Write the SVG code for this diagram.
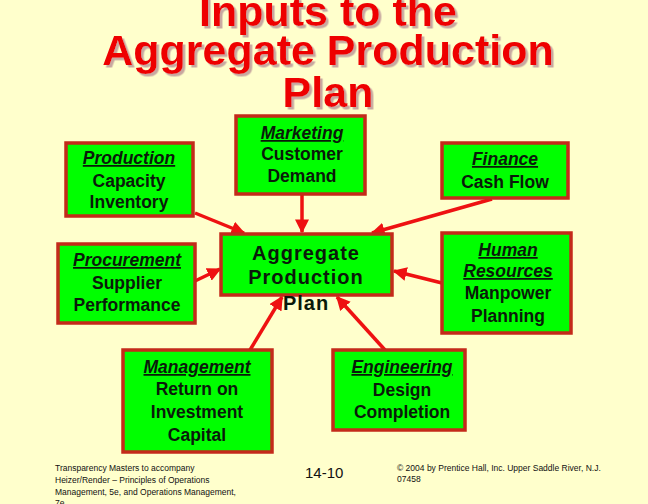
<svg xmlns="http://www.w3.org/2000/svg" width="648" height="504" viewBox="0 0 648 504">
<defs>
<marker id="ah" viewBox="0 0 10 10" refX="9" refY="5" markerWidth="4" markerHeight="4" orient="auto" markerUnits="strokeWidth">
<path d="M0,0 L10,5 L0,10 z" fill="#EE1111"/>
</marker>
<filter id="sh" x="-5%" y="-20%" width="110%" height="140%">
<feDropShadow dx="2.5" dy="2.5" stdDeviation="0" flood-color="#C8A8A0" flood-opacity="1"/>
</filter>
</defs>
<style>
.bg{fill:#FFFFCC}
.box{fill:#00FF00;stroke:#C42A1A;stroke-width:3.5}
.t{font-family:"Liberation Sans",Arial,sans-serif;font-weight:bold;font-size:17.5px;fill:#0A1A0A;text-anchor:middle}
.h{font-style:italic;text-decoration:underline}
.big{font-size:20px;letter-spacing:1px}
.title{font-family:"Liberation Sans",Arial,sans-serif;font-weight:bold;font-size:43px;text-anchor:middle;fill:#EE0000}
.ft{font-family:"Liberation Sans",Arial,sans-serif;font-size:8.5px;fill:#111}
.conn line{stroke:#EE1111;stroke-width:3.5;marker-end:url(#ah)}
</style>
<rect class="bg" x="0" y="0" width="648" height="504"/>
<g id="title" filter="url(#sh)">
<text class="title" x="328" y="26">Inputs to the</text>
<text class="title" x="328" y="65">Aggregate Production</text>
<text class="title" x="328" y="107">Plan</text>
</g>
<g class="conn" id="connectors">
<line x1="195" y1="213" x2="244" y2="233"/>
<line x1="302" y1="194" x2="302" y2="232"/>
<line x1="492" y1="199" x2="372" y2="233"/>
<line x1="195" y1="281" x2="220" y2="269"/>
<line x1="442" y1="283" x2="394" y2="271"/>
<line x1="250" y1="350" x2="282" y2="297"/>
<line x1="385" y1="350" x2="337" y2="297"/>
</g>
<g id="production">
<rect class="box" x="66" y="143" width="127" height="73"/>
<text class="t h" x="129" y="164">Production</text>
<text class="t" x="129" y="187">Capacity</text>
<text class="t" x="129" y="208">Inventory</text>
</g>
<g id="marketing">
<rect class="box" x="236" y="116" width="129" height="78"/>
<text class="t h" x="302" y="139">Marketing</text>
<text class="t" x="302" y="160">Customer</text>
<text class="t" x="302" y="182">Demand</text>
</g>
<g id="finance">
<rect class="box" x="442" y="143" width="126" height="55"/>
<text class="t h" x="505" y="165">Finance</text>
<text class="t" x="505" y="188">Cash Flow</text>
</g>
<g id="procurement">
<rect class="box" x="58" y="244" width="137" height="79"/>
<text class="t h" x="127" y="266">Procurement</text>
<text class="t" x="127" y="289">Supplier</text>
<text class="t" x="127" y="311">Performance</text>
</g>
<g id="aggregate">
<rect class="box" x="221" y="234" width="171" height="61"/>
<text class="t big" x="306" y="260">Aggregate</text>
<text class="t big" x="306" y="284">Production</text>
<text class="t big" x="306" y="310">Plan</text>
</g>
<g id="human-resources">
<rect class="box" x="442" y="233" width="129" height="100"/>
<text class="t h" x="508" y="256">Human</text>
<text class="t h" x="508" y="277">Resources</text>
<text class="t" x="508" y="299">Manpower</text>
<text class="t" x="508" y="322">Planning</text>
</g>
<g id="management">
<rect class="box" x="123" y="350" width="149" height="102"/>
<text class="t h" x="197" y="373">Management</text>
<text class="t" x="197" y="395">Return on</text>
<text class="t" x="197" y="418">Investment</text>
<text class="t" x="197" y="441">Capital</text>
</g>
<g id="engineering">
<rect class="box" x="333" y="350" width="132" height="80"/>
<text class="t h" x="402" y="373">Engineering</text>
<text class="t" x="402" y="396">Design</text>
<text class="t" x="402" y="418">Completion</text>
</g>
<g id="footer">
<text class="ft" x="55" y="471">Transparency Masters to accompany</text>
<text class="ft" x="55" y="483">Heizer/Render – Principles of Operations</text>
<text class="ft" x="55" y="495">Management, 5e, and Operations Management,</text>
<text class="ft" x="55" y="506">7e</text>
<text x="305" y="478" font-family="Liberation Sans, Arial, sans-serif" font-size="15" fill="#111">14-10</text>
<text class="ft" x="397" y="471">© 2004 by Prentice Hall, Inc.  Upper Saddle River, N.J.</text>
<text class="ft" x="397" y="482">07458</text>
</g>
</svg>
